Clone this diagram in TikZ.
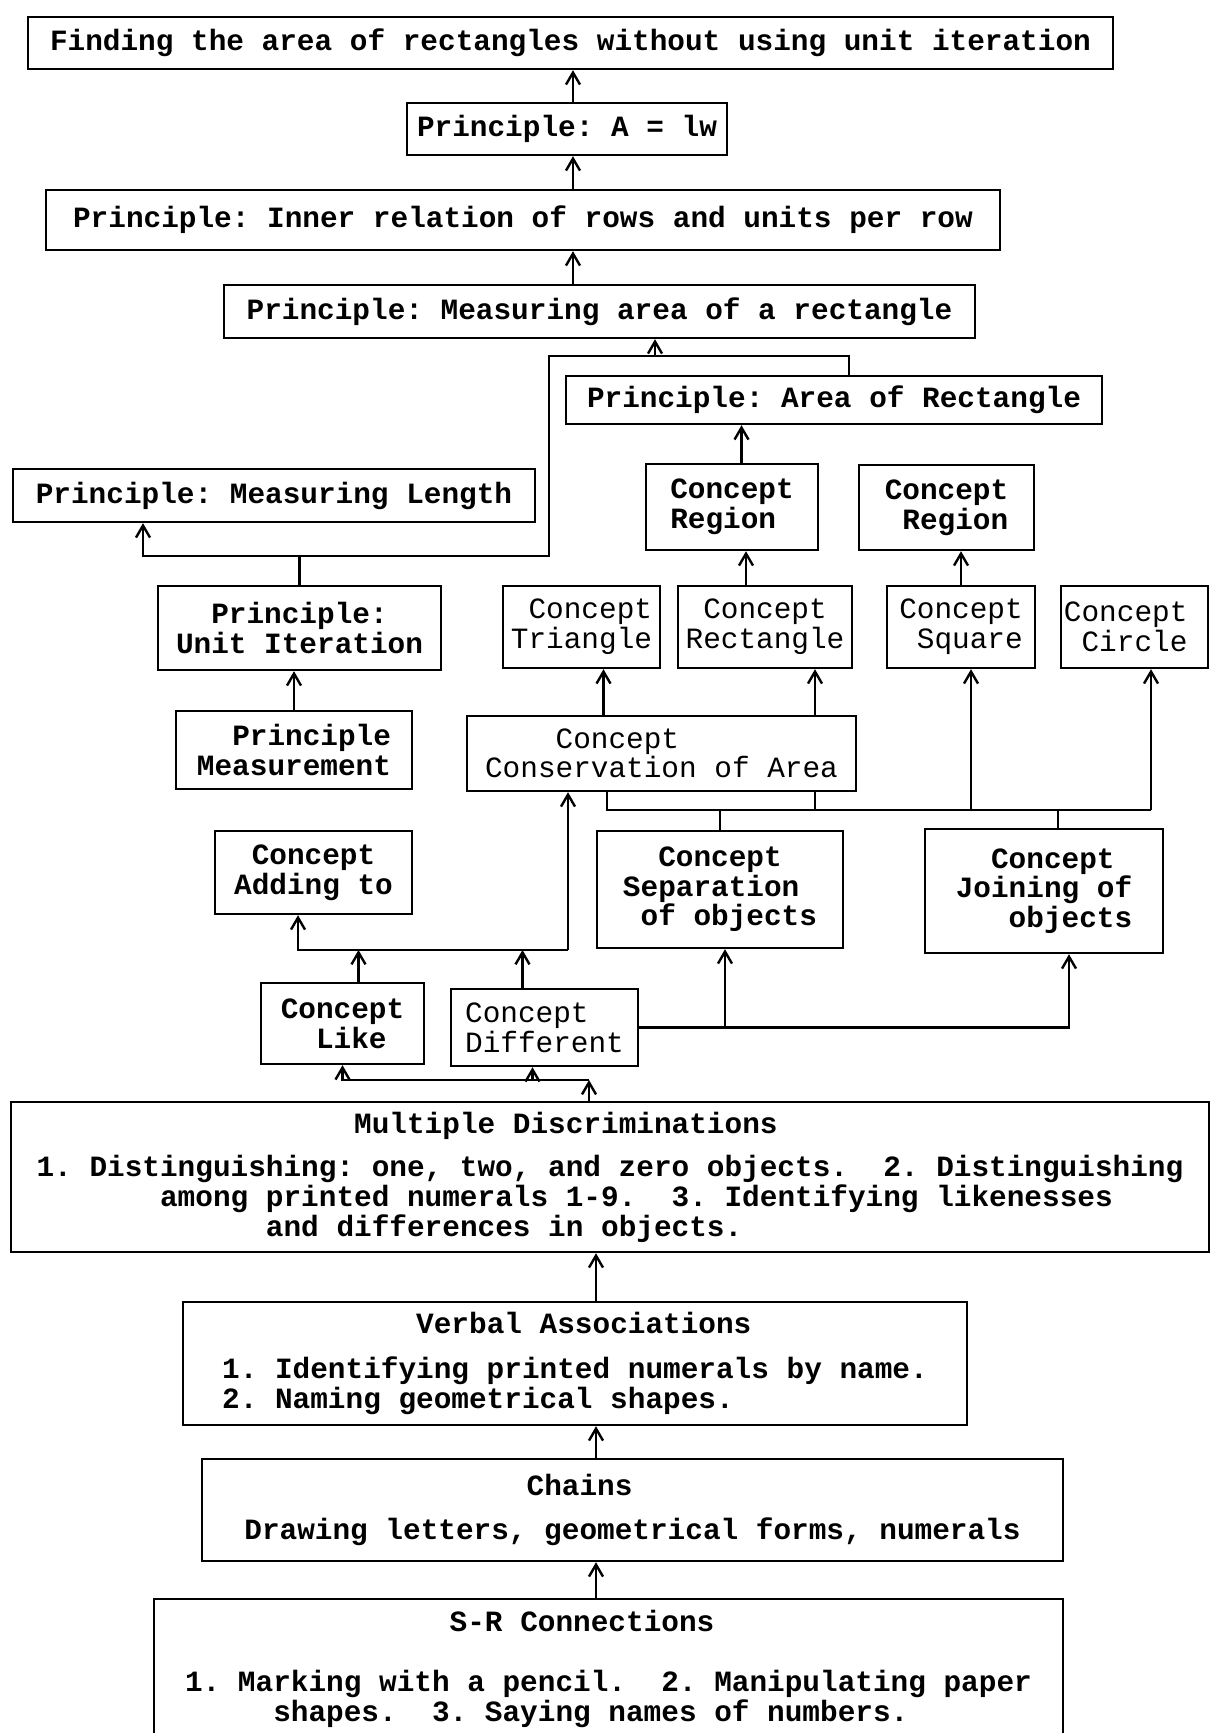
\documentclass[tikz,border=0pt]{standalone}
\usepackage{fontspec}
\usetikzlibrary{arrows.meta}
\newfontfamily\typew[WordSpace={1,0,0},PunctuationSpace=WordSpace]{Liberation Mono}
\newcommand\tsp[1]{\hspace*{#1\fontcharwd\font`M}}

\begin{document}
\begin{tikzpicture}[x=0.5pt,y=-0.5pt,
    box/.style={draw,line width=1.2pt,inner sep=0pt,align=left,
        font=\typew\fontsize{14.7}{14.8}\selectfont},
    heavy/.style={box,font=\typew\bfseries\fontsize{14.7}{14.8}\selectfont},
    link/.style={line width=1.2pt},
    arr/.style={link,-{Straight Barb[length=6pt,width=7pt]}}]
    \useasboundingbox (0,0) rectangle (1210,1733);
    % principles at the top
    \node[heavy,minimum width=542.5pt,minimum height=26pt] (find) at (570.5,43) {Finding the area of rectangles without using unit iteration};
    \node[heavy,minimum width=160pt,minimum height=26pt] (alw) at (567,129) {Principle: A = lw};
    \node[heavy,minimum width=477pt,minimum height=30pt] (inner) at (523,220) {Principle: Inner relation of rows and units per row};
    \node[heavy,minimum width=375.5pt,minimum height=26.5pt] (measarea) at (599.5,311.5) {Principle: Measuring area of a rectangle};
    \node[heavy,minimum width=268pt,minimum height=24pt] (arearect) at (834,400) {Principle: Area of Rectangle};
    \node[heavy,minimum width=261pt,minimum height=26.5pt] (measlen) at (274,495.5) {Principle: Measuring Length};
    \node[heavy,minimum width=86pt,minimum height=43pt] (regiona) at (732,507) {Concept\\Region};
    \node[heavy,minimum width=87.5pt,minimum height=42.5pt] (regionb) at (946.5,507.5) {Concept\\\tsp{1}Region};
    \node[heavy,minimum width=141.5pt,minimum height=42pt,align=center] (unititer) at (299.5,628) {Principle:\\Unit Iteration};
    % concepts
    \node[box,minimum width=78.5pt,minimum height=41pt] (triangle) at (581.5,627) {\tsp{1}Concept\\Triangle};
    \node[box,minimum width=87pt,minimum height=41pt] (rectangle) at (765,627) {\tsp{1}Concept\\Rectangle};
    \node[box,minimum width=74pt,minimum height=41pt] (square) at (961,627) {Concept\\\tsp{1}Square};
    \node[box,minimum width=73.5pt,minimum height=41pt] (circle) at (1134.5,627) {Concept\\\tsp{1}Circle\tsp{1}};
    \node[heavy,minimum width=118pt,minimum height=39pt] (measurement) at (294,750) {\tsp{2}Principle\\Measurement};
    \node[box,minimum width=194.5pt,minimum height=37.5pt] (conservation) at (661.5,753.5) {\tsp{4}Concept\\Conservation of Area};
    \node[heavy,minimum width=98.5pt,minimum height=41.5pt] (adding) at (313.5,872.5) {\tsp{1}Concept\\Adding to};
    \node[heavy,minimum width=123pt,minimum height=58.5pt] (separation) at (720,889.5) {\tsp{2}Concept\\Separation\\\tsp{1}of objects};
    \node[heavy,minimum width=119pt,minimum height=62pt] (joining) at (1044,891) {\tsp{2}Concept\\Joining of\\\tsp{3}objects};
    \node[heavy,minimum width=81.5pt,minimum height=40.5pt] (like) at (342.5,1023.5) {Concept\\\tsp{2}Like};
    \node[box,minimum width=93.5pt,minimum height=38.5pt] (different) at (544.5,1027.5) {Concept\\Different};
    % learning types at the bottom
    \node[heavy,minimum width=599pt,minimum height=75pt] (md) at (610,1177) {\tsp{18}Multiple Discriminations\\[7pt]
        1. Distinguishing: one, two, and zero objects.~~2. Distinguishing\\
        \tsp{7}among printed numerals 1-9.~~3. Identifying likenesses\\
        \tsp{13}and differences in objects.};
    \node[heavy,minimum width=392pt,minimum height=61.5pt] (verbal) at (575,1363.5) {\tsp{11}Verbal Associations\\[7.5pt]
        1. Identifying printed numerals by name.\\
        2. Naming geometrical shapes.};
    \node[heavy,minimum width=430.5pt,minimum height=51pt] (chains) at (632.5,1510) {\tsp{16}Chains\\[7pt]
        Drawing letters, geometrical forms, numerals};
    \node[heavy,minimum width=454.5pt,minimum height=70pt] (sr) at (608.5,1669) {\tsp{15}S-R Connections\\[15pt]
        1. Marking with a pencil.~~2. Manipulating paper\\
        \tsp{5}shapes.~~3. Saying names of numbers.};
    % connectors
    \coordinate (spine) at (573,0);
    \coordinate (lowspine) at (596,0);
    \draw[arr] (spine |- alw.north) -- (spine |- find.south);
    \draw[arr] (spine |- inner.north) -- (spine |- alw.south);
    \draw[arr] (spine |- measarea.north) -- (spine |- inner.south);
    \coordinate (lenbus) at (143,556);
    \coordinate (areabus) at (549,356);
    \draw[arr] (unititer.north) |- (lenbus) -- (lenbus |- measlen.south);
    \draw[link] (unititer.north |- lenbus) -| (areabus) -| ([xshift=7.5pt]arearect.north);
    \draw[arr] ([xshift=27.75pt]measarea.south |- areabus) -- ([xshift=27.75pt]measarea.south);
    \draw[arr] ([xshift=4.75pt]regiona.north) -- ([xshift=4.75pt]regiona.north |- arearect.south);
    \draw[arr] ([xshift=7pt]regiona.south |- rectangle.north) -- ([xshift=7pt]regiona.south);
    \draw[arr] (square.north) -- (square.north |- regionb.south);
    \draw[arr] (measurement.north) -- (measurement.north |- unititer.south);
    \draw[arr] ([xshift=11pt]triangle.south |- conservation.north) -- ([xshift=11pt]triangle.south);
    \draw[arr] ([xshift=25pt]rectangle.south |- conservation.north) -- ([xshift=25pt]rectangle.south);
    % bus under conservation
    \coordinate (cbusl) at (607,810);
    \coordinate (cbusr) at (1151,810);
    \draw[link] (cbusl |- conservation.south) -- (cbusl) -- (cbusr);
    \draw[link] ([xshift=25pt]rectangle.south |- conservation.south) -- ([xshift=25pt]rectangle.south |- cbusl);
    \draw[link] (separation.north) -- (separation.north |- cbusl);
    \draw[link] ([xshift=7pt]joining.north) -- ([xshift=7pt]joining.north |- cbusl);
    \draw[arr] ([xshift=5pt]square.south |- cbusl) -- ([xshift=5pt]square.south);
    \draw[arr] (cbusr) -- (cbusr |- circle.south);
    % bus under adding to
    \coordinate (addbus) at (298,950);
    \coordinate (consup) at (568,950);
    \draw[arr] (consup) -- (addbus) -- (addbus |- adding.south);
    \draw[arr] (consup) -- (consup |- conservation.south);
    \draw[arr] ([xshift=8pt]like.north) -- ([xshift=8pt]like.north |- addbus);
    \draw[arr] ([xshift=-11pt]different.north) -- ([xshift=-11pt]different.north |- addbus);
    \draw[arr] (different.east) -| ([xshift=12.5pt]joining.south);
    \draw[arr] ([xshift=2.5pt]separation.south |- different.east) -- ([xshift=2.5pt]separation.south);
    % bus above discriminations
    \coordinate (mdbus) at (589,1080);
    \draw[arr] (mdbus |- md.north) -- (mdbus);
    \draw[arr] (mdbus) -| (like.south);
    \draw[arr] ([xshift=-6pt]different.south |- mdbus) -- ([xshift=-6pt]different.south);
    \draw[arr] (lowspine |- verbal.north) -- (lowspine |- md.south);
    \draw[arr] (lowspine |- chains.north) -- (lowspine |- verbal.south);
    \draw[arr] (lowspine |- sr.north) -- (lowspine |- chains.south);
\end{tikzpicture}
\end{document}
